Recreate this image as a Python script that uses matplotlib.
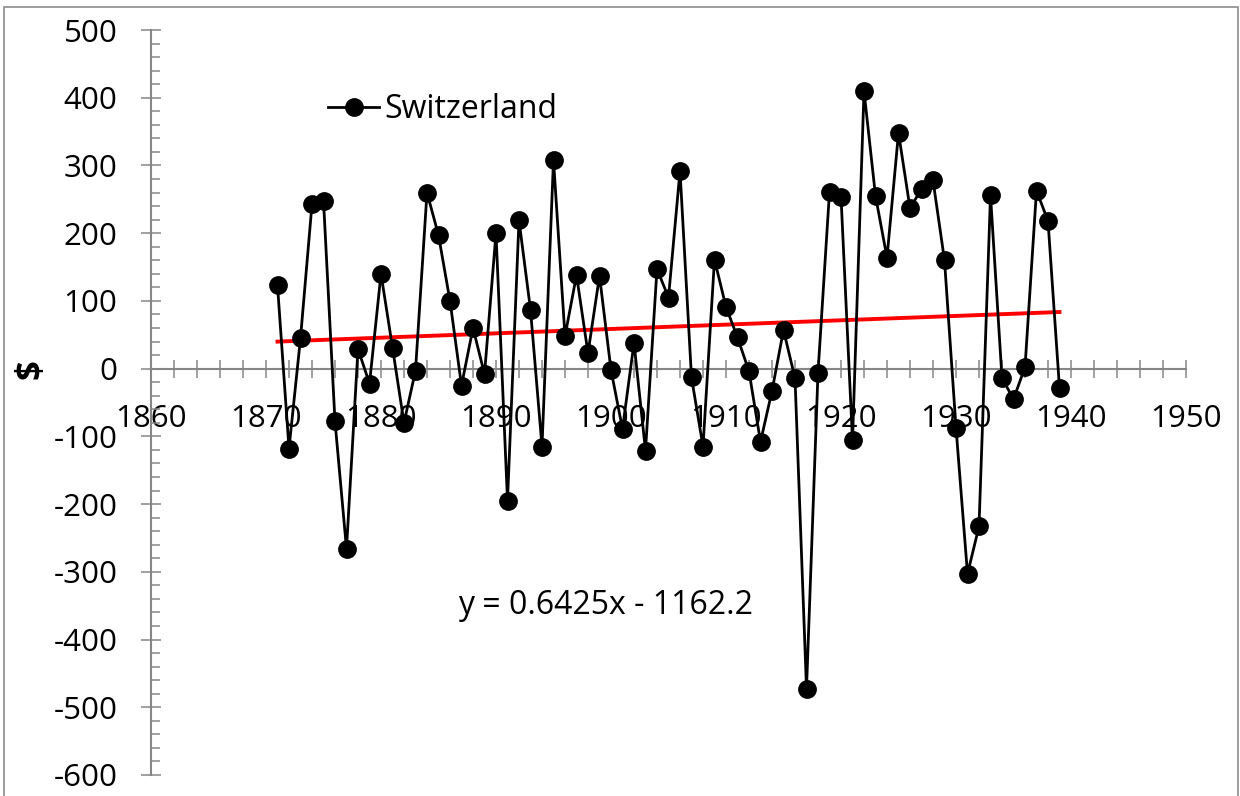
#!/usr/bin/env python3
"""Switzerland yearly series 1871-1939 with a linear trend line."""

import matplotlib
matplotlib.use("Agg")
import matplotlib.pyplot as plt
from matplotlib.patches import Rectangle
from matplotlib.ticker import MultipleLocator
import numpy as np

plt.rcParams["font.family"] = ["Open Sans", "DejaVu Sans"]
plt.rcParams["axes.unicode_minus"] = False

# Values ($ per year).
YEARS = list(range(1871, 1940))
SWITZERLAND = [
    123, -118, 45, 243, 248, -78, -266, 29, -22, 140,
    31, -80, -3, 260, 197, 100, -25, 60, -8, 200,
    -195, 219, 87, -115, 308, 48, 138, 23, 137, -2,
    -89, 38, -121, 147, 105, 292, -13, -115, 161, 91,
    46, -4, -108, -33, 57, -14, -473, -6, 261, 254,
    -106, 410, 255, 164, 348, 237, 265, 278, 160, -87,
    -303, -233, 256, -14, -45, 2, 263, 218, -29,
]
SERIES_LABEL = "Switzerland"

# Linear trend as printed on the chart.
TREND_SLOPE = 0.6425
TREND_INTERCEPT = -1162.2

AXIS_GREY = "#868686"


def main() -> None:
    fig = plt.figure(figsize=(12.4, 7.96), dpi=100)
    ax = fig.add_axes([151 / 1240, 1 - 775 / 796, (1186 - 151) / 1240, (775 - 30) / 796])

    years = np.array(YEARS)
    values = np.array(SWITZERLAND)

    ax.plot(years, values, color="black", lw=2.0, marker="o", ms=12.5,
            label=SERIES_LABEL, zorder=3)

    trend_x = np.array([years[0], years[-1]])
    ax.plot(trend_x, TREND_SLOPE * trend_x + TREND_INTERCEPT,
            color="#ff0000", lw=2.8, zorder=2)

    ax.text(1886.7, -349, f"y = {TREND_SLOPE}x - {abs(TREND_INTERCEPT)}",
            fontsize=23, va="center", ha="left")

    ax.set_xlim(1860, 1950)
    ax.set_ylim(-600, 500)

    for side in ("top", "right"):
        ax.spines[side].set_visible(False)
    ax.spines["bottom"].set_position(("data", 0))
    for side in ("left", "bottom"):
        ax.spines[side].set_color(AXIS_GREY)
        ax.spines[side].set_linewidth(1.5)

    ax.xaxis.set_major_locator(MultipleLocator(10))
    ax.xaxis.set_minor_locator(MultipleLocator(2))
    ax.yaxis.set_major_locator(MultipleLocator(100))
    ax.yaxis.set_minor_locator(MultipleLocator(20))

    ax.tick_params(axis="x", which="both", direction="inout", length=13,
                   width=1.1, color=AXIS_GREY)
    ax.tick_params(axis="x", which="major", pad=19, labelsize=22.5)
    ax.tick_params(axis="y", which="major", direction="inout", length=14.4,
                   width=1.1, color=AXIS_GREY, pad=17, labelsize=22.5)
    ax.tick_params(axis="y", which="minor", direction="in", length=6.5,
                   width=1.1, color=AXIS_GREY)

    fig.text(32 / 1240, 1 - 369 / 796, "$", rotation=90, fontsize=25,
             fontweight="bold", ha="center", va="center")

    ax.legend(loc="center left", bbox_to_anchor=(328 / 1240, 1 - 110 / 796),
              bbox_transform=fig.transFigure, frameon=False, fontsize=23,
              handlelength=1.6, handletextpad=0.15, borderpad=0,
              borderaxespad=0)

    # light grey frame around the whole chart area
    fig.patches.append(Rectangle((4 / 1240, -0.05), 1234 / 1240, 1.05 - 7 / 796,
                                 transform=fig.transFigure, fill=False,
                                 edgecolor="#8c8c8c", lw=1.2))

    fig.savefig("out.png", dpi=100)


if __name__ == "__main__":
    main()
